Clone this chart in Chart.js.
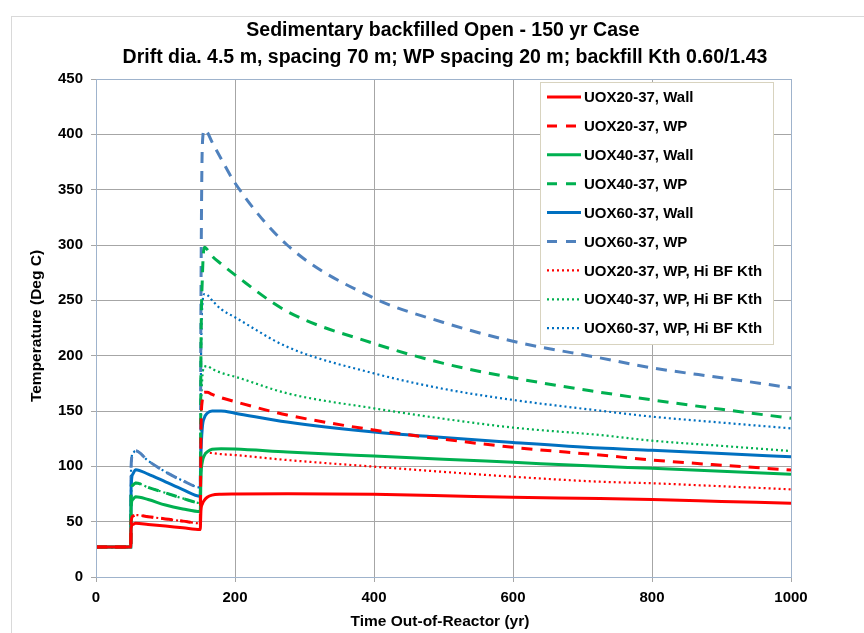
<!DOCTYPE html>
<html lang="en">
<head>
  <meta charset="UTF-8">
  <title>Sedimentary backfilled Open - 150 yr Case</title>
  <script src="https://cdn.jsdelivr.net/npm/chart.js"></script>
  <style>
    body { margin: 0; background: #fff; }
    #wrap { width: 864px; height: 633px; }
  </style>
</head>
<body>
  <div id="wrap"><canvas id="tempChart" width="864" height="633"></canvas></div>
<script>
// time out-of-reactor (yr)
const years = [0, 50, 50.5, 53, 57, 75, 100, 125, 150, 151, 153, 156, 160, 167, 180, 200, 275, 400, 500, 600, 725, 800, 900, 1000];

// temperatures (Deg C)
const uox20Wall = [27, 27, 44, 47.5, 48.5, 47.5, 46, 44.5, 43, 60, 66, 69.5, 72, 74, 74.8, 75, 75.2, 74.7, 73.5, 72, 71, 70, 68.3, 66.6];
const uox20WP   = [27, 27, 50, 55, 56, 54.5, 52.5, 50.5, 48.5, 130, 160, 167, 167, 165, 162, 158.4, 146.4, 132.8, 124.5, 117.2, 110.2, 105.7, 101, 96.7];
const uox40Wall = [27, 27, 63, 70, 72.5, 70, 65, 61.5, 59, 90, 104, 110, 113, 115.5, 116, 115.7, 113, 109.3, 106.5, 103.6, 100, 98.2, 95.5, 92.8];
const uox40WP   = [27, 27, 75, 83, 85, 81, 76, 71, 67, 200, 270, 298, 296, 290, 283, 273, 240, 211, 193, 180, 167, 160, 151.5, 143.5];
const uox60Wall = [27, 27, 80, 93, 97, 93, 86, 79, 73, 110, 135, 144, 148, 150, 150, 148, 140, 131, 126, 121.5, 116.5, 114.5, 111.5, 108.7];
const uox60WP   = [27, 27, 100, 112, 114, 105, 95, 87, 81, 250, 390, 404, 402, 393, 378, 356, 300, 252, 230, 213, 198, 189, 180, 171];
const uox20HiBF = [27, 27, 50, 55, 56, 54.5, 52.5, 50.5, 48.5, 95, 106, 111, 112.3, 112, 111, 110.2, 105.7, 99.7, 95, 90.6, 86.1, 84.7, 82, 79.2];
const uox40HiBF = [27, 27, 75, 83, 85, 81, 76, 71, 67, 140, 180, 190, 190.5, 188, 184.5, 181, 166, 152.4, 143, 135, 128.3, 123.2, 118.5, 113.8];
const uox60HiBF = [27, 27, 100, 112, 114, 105, 95, 87, 81, 190, 245, 255.7, 255, 250, 242, 234.7, 208, 184, 170, 160, 150.3, 144.9, 139.5, 134.3];

const seriesNames = [
  'UOX20-37, Wall', 'UOX20-37, WP', 'UOX40-37, Wall', 'UOX40-37, WP',
  'UOX60-37, Wall', 'UOX60-37, WP',
  'UOX20-37, WP, Hi BF Kth', 'UOX40-37, WP, Hi BF Kth', 'UOX60-37, WP, Hi BF Kth'
];
const seriesValues = [uox20Wall, uox20WP, uox40Wall, uox40WP, uox60Wall, uox60WP, uox20HiBF, uox40HiBF, uox60HiBF];
const seriesColors = ['#FF0000', '#FF0000', '#00B050', '#00B050', '#0070C0', '#4F81BD', '#FF0000', '#00B050', '#0070C0'];
const seriesKind = ['solid', 'dash', 'solid', 'dash', 'solid', 'dash', 'dot', 'dot', 'dot'];

const xTicks = [0, 200, 400, 600, 800, 1000];
const FONT = "'Liberation Sans', Arial, sans-serif";

function styleFor(kind) {
  if (kind === 'dash') return { borderWidth: 3, borderDash: [11, 8] };
  if (kind === 'dot') return { borderWidth: 2.2, borderDash: [2, 3] };
  return { borderWidth: 3, borderDash: [] };
}

const datasets = seriesNames.map((name, i) => {
  const st = styleFor(seriesKind[i]);
  return {
    label: name,
    data: years.map((yr, k) => ({ x: yr, y: seriesValues[i][k] })),
    borderColor: seriesColors[i],
    borderWidth: st.borderWidth,
    borderDash: st.borderDash,
    pointRadius: 0,
    fill: false,
    cubicInterpolationMode: 'monotone'
  };
});

// titles, frame and the legend box drawn by hand
const decor = {
  id: 'decor',
  beforeDraw(chart) {
    const c = chart.ctx;
    c.save();
    c.fillStyle = '#fff';
    c.fillRect(0, 0, chart.width, chart.height);
    c.strokeStyle = '#d9d9d9';
    c.lineWidth = 1;
    c.strokeRect(11.5, 16.5, 870, 640);
    c.restore();
  },
  afterDraw(chart) {
    const c = chart.ctx;
    const a = chart.chartArea;
    c.save();
    // plot border
    c.strokeStyle = '#9fb3cc';
    c.lineWidth = 1;
    c.strokeRect(a.left + 0.5, a.top + 0.5, a.right - a.left, a.bottom - a.top);

    c.fillStyle = '#000';
    c.textAlign = 'center';
    c.textBaseline = 'middle';
    c.font = 'bold 19.5px ' + FONT;
    c.fillText('Sedimentary backfilled Open - 150 yr Case', 443, 31);
    c.fillText('Drift dia. 4.5 m, spacing 70 m; WP spacing 20 m; backfill Kth 0.60/1.43', 445, 58);

    c.font = 'bold 15.5px ' + FONT;
    c.fillText('Time Out-of-Reactor (yr)', 440, 622);
    c.translate(37, 326);
    c.rotate(-Math.PI / 2);
    c.fillText('Temperature (Deg C)', 0, 0);
    c.restore();

    // legend
    c.save();
    const lx = 540, ly = 82, lw = 233, lh = 262;
    c.fillStyle = '#fff';
    c.fillRect(lx, ly, lw, lh);
    c.strokeStyle = '#d8d3bf';
    c.lineWidth = 1;
    c.strokeRect(lx + 0.5, ly + 0.5, lw, lh);
    c.font = 'bold 15px ' + FONT;
    c.textAlign = 'left';
    c.textBaseline = 'middle';
    seriesNames.forEach((name, i) => {
      const y = 97 + i * 28.9;
      const st = styleFor(seriesKind[i]);
      c.strokeStyle = seriesColors[i];
      c.lineWidth = st.borderWidth;
      c.setLineDash(seriesKind[i] === 'dash' ? [10, 9] : st.borderDash);
      c.beginPath();
      c.moveTo(547, y);
      c.lineTo(581, y);
      c.stroke();
      c.setLineDash([]);
      c.fillStyle = '#000';
      c.fillText(name, 584, y + 1);
    });
    c.restore();
  }
};

new Chart(document.getElementById('tempChart'), {
  type: 'line',
  data: { datasets: datasets },
  options: {
    responsive: false,
    animation: false,
    layout: { padding: { left: 40, top: 79, right: 73, bottom: 26 } },
    plugins: { legend: { display: false }, tooltip: { enabled: false } },
    scales: {
      x: {
        type: 'linear',
        min: 0,
        max: 1000,
        afterFit(s) { s.height = 30; },
        afterBuildTicks(s) { s.ticks = xTicks.map(v => ({ value: v })); },
        grid: { color: '#a6a6a6', tickLength: 5, drawTicks: true },
        border: { color: '#9fb3cc' },
        ticks: {
          color: '#000', padding: 7, maxRotation: 0,
          font: { family: FONT, size: 15, weight: 'bold' },
          callback: v => String(v)
        }
      },
      y: {
        min: 0,
        max: 450,
        afterFit(s) { s.width = 56; },
        grid: { color: '#a6a6a6', tickLength: 5 },
        border: { color: '#9fb3cc' },
        ticks: { stepSize: 50, color: '#000', padding: 8, font: { family: FONT, size: 15, weight: 'bold' } }
      }
    }
  },
  plugins: [decor]
});
</script>
</body>
</html>
